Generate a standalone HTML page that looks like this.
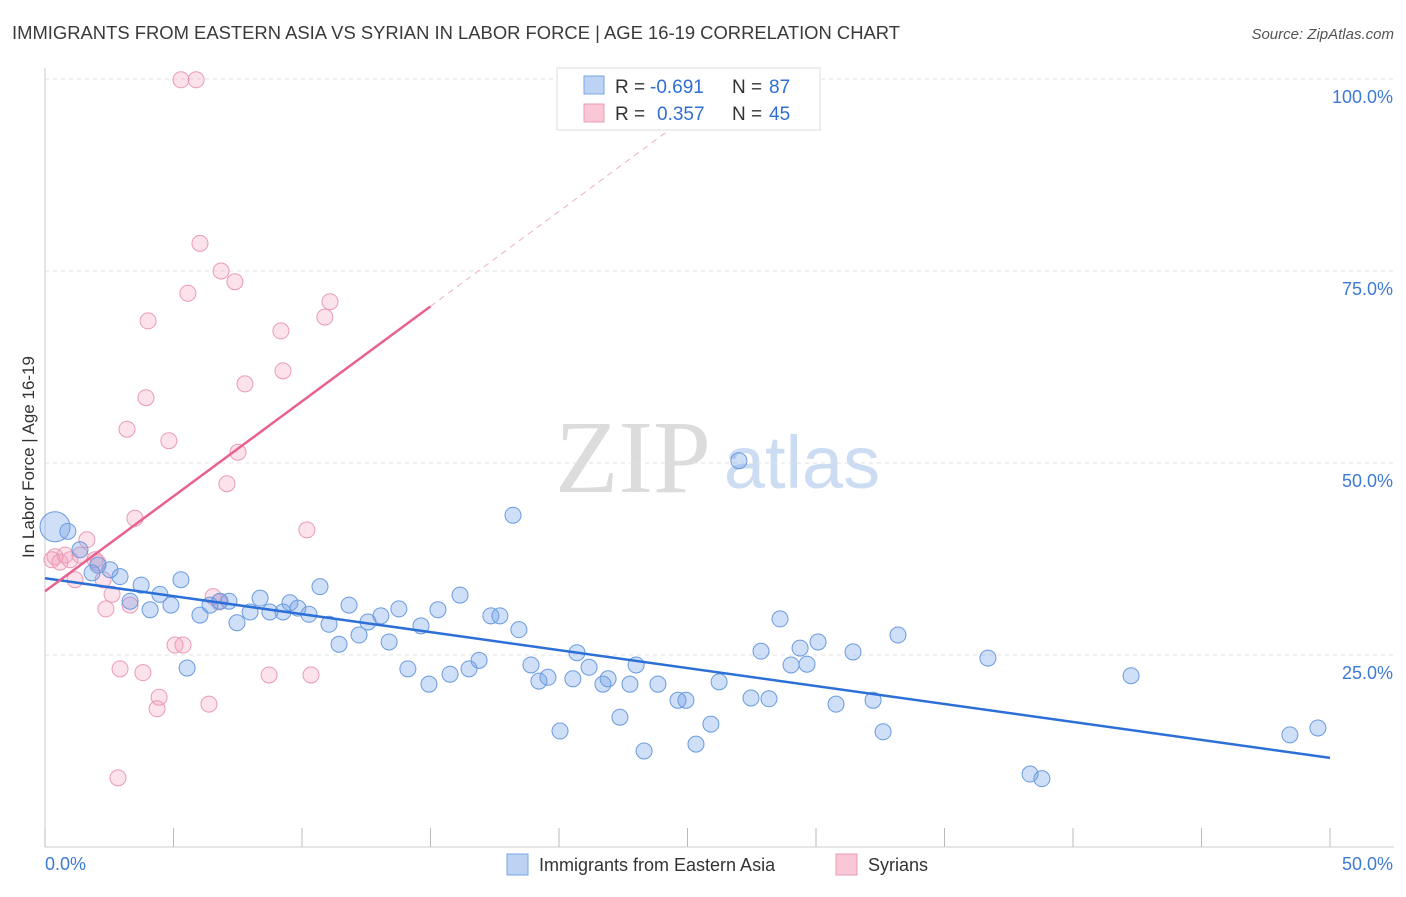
<!DOCTYPE html>
<html><head><meta charset="utf-8"><style>
body{margin:0;background:#fff;width:1406px;height:892px;overflow:hidden;font-family:"Liberation Sans",sans-serif}
</style></head><body>
<svg id="chart" width="1406" height="892" xmlns="http://www.w3.org/2000/svg" font-family="Liberation Sans, sans-serif">
<text x="12" y="39" font-size="18" fill="#3a3a3a" textLength="888" lengthAdjust="spacingAndGlyphs">IMMIGRANTS FROM EASTERN ASIA VS SYRIAN IN LABOR FORCE | AGE 16-19 CORRELATION CHART</text>
<text x="1394" y="39" font-size="15" fill="#555" font-style="italic" text-anchor="end">Source: ZipAtlas.com</text>
<g>
<text x="633" y="492" font-size="104" font-family="Liberation Serif, serif" fill="#dcdcdc" text-anchor="middle">ZIP</text>
<text x="802" y="488" font-size="74" fill="#ccdcf2" text-anchor="middle">atlas</text>
</g>
<g id="grid"></g><g id="axes"></g><g id="marks"></g>
<text transform="translate(34,457) rotate(-90)" font-size="17" fill="#333" text-anchor="middle">In Labor Force | Age 16-19</text>
<g>
<rect x="557" y="68" width="263" height="62" fill="#fff" stroke="#ddd"/>
<rect x="584" y="76" width="20" height="18" fill="#bcd3f3" stroke="#7aa5e6"/>
<rect x="584" y="104" width="20" height="18" fill="#f9c7d6" stroke="#ec9bb6"/>
<text x="615" y="93" font-size="19" fill="#333">R =</text>
<text x="650" y="93" font-size="19" fill="#2f6fd4">-0.691</text>
<text x="732" y="93" font-size="19" fill="#333">N =</text>
<text x="769" y="93" font-size="19" fill="#2f6fd4">87</text>
<text x="615" y="120" font-size="19" fill="#333">R =</text>
<text x="657" y="120" font-size="19" fill="#2f6fd4">0.357</text>
<text x="732" y="120" font-size="19" fill="#333">N =</text>
<text x="769" y="120" font-size="19" fill="#2f6fd4">45</text>
</g>
<g>
<rect x="507" y="854" width="21" height="21" fill="#bcd3f3" stroke="#7aa5e6"/>
<text x="539" y="871" font-size="18" fill="#333">Immigrants from Eastern Asia</text>
<rect x="836" y="854" width="21" height="21" fill="#f9c7d6" stroke="#ec9bb6"/>
<text x="868" y="871" font-size="18" fill="#333">Syrians</text>
</g>
</svg>
<script>
const xTicks=[0,5,10,15,20,25,30,35,40,45,50];
const yTicks=[25,50,75,100];
const yTickLabels=["25.0%","50.0%","75.0%","100.0%"];
const blueX=[0.39,0.89,1.36,2.06,1.83,2.53,2.92,3.31,3.74,4.09,4.47,4.90,5.29,5.53,6.03,6.42,6.81,7.16,7.47,7.98,8.37,8.75,9.26,9.53,9.84,10.27,10.70,11.05,11.44,11.83,12.22,12.57,13.07,13.39,13.77,14.12,14.63,14.94,15.29,15.76,16.15,16.50,16.89,17.35,17.70,18.21,18.44,18.91,19.22,19.57,20.04,20.54,20.70,21.17,21.71,21.91,22.37,22.76,23.00,23.31,23.85,24.63,24.94,25.33,25.91,26.23,27.00,27.47,27.86,28.17,28.60,29.03,29.38,29.65,30.08,30.78,31.44,32.22,32.61,33.19,36.69,38.33,38.79,42.26,48.44,49.53];
const blueY=[41.7,41.1,38.7,36.7,35.7,36.1,35.2,32.0,34.1,30.9,32.9,31.5,34.8,23.3,30.2,31.5,32.0,32.0,29.2,30.6,32.4,30.6,30.6,31.8,31.1,30.3,33.9,29.0,26.4,31.5,27.6,29.3,30.1,26.7,31.0,23.2,28.8,21.2,30.9,22.5,32.8,23.2,24.3,30.1,30.1,43.2,28.3,23.7,21.6,22.1,15.1,21.9,25.3,23.4,21.2,21.9,16.9,21.2,23.7,12.5,21.2,19.1,19.1,13.4,16.0,21.5,50.3,19.4,25.5,19.3,29.7,23.7,25.9,23.8,26.7,18.6,25.4,19.1,15.0,27.6,24.6,9.5,8.9,22.3,14.6,15.5];
const pinkX=[5.29,5.88,6.03,6.85,7.39,5.56,4.01,11.09,10.89,9.18,9.26,7.78,3.93,3.19,4.82,7.51,7.08,10.19,3.50,1.63,0.39,0.78,1.17,2.06,2.26,2.61,2.37,3.31,6.54,6.77,2.92,3.81,5.37,5.06,4.44,4.36,6.38,8.72,10.35,2.84,0.27,0.58,0.97,1.36,1.95];
const pinkY=[99.9,99.9,78.6,75.0,73.6,72.1,68.5,71.0,69.0,67.2,62.0,60.3,58.5,54.4,52.9,51.4,47.3,41.3,42.8,40.0,37.8,38.0,34.8,37.0,34.8,32.9,31.0,31.5,32.6,31.9,23.2,22.7,26.3,26.3,19.5,18.0,18.6,22.4,22.4,9.0,37.4,37.1,37.4,38.0,37.4];
const blueTrend=[35.0,11.6];   // y at x=0 and x=50
const pinkTrend=[33.3,70.4];   // y at x=0 and x=15
const NS="http://www.w3.org/2000/svg";
const X=v=>45+v*25.7, Y=v=>847-v*7.68;
function mk(tag,attrs,parent){const e=document.createElementNS(NS,tag);for(const k in attrs)e.setAttribute(k,attrs[k]);parent.appendChild(e);return e;}
const grid=document.getElementById('grid'),axes=document.getElementById('axes'),marks=document.getElementById('marks');
yTicks.forEach((t,i)=>{
 const l=mk('line',{x1:45,x2:1394,y1:Y(t),y2:Y(t),stroke:'#e2e2e2','stroke-dasharray':'4,4'},grid);
 
 
 const tx=mk('text',{x:1393,y:Y(t)+24,'font-size':18,fill:'#3d7ad6','text-anchor':'end'},axes);
 tx.textContent=yTickLabels[i];
 
 
});
let a=mk('line',{x1:45,x2:45,y1:68,y2:847,stroke:'#ccc'},axes);


a=mk('line',{x1:45,x2:1394,y1:847,y2:847,stroke:'#ccc'},axes);


xTicks.forEach(t=>{
 const l=mk('line',{x1:X(t),x2:X(t),y1:828,y2:847,stroke:'#bbb'},axes);
 
 
});
let t0=mk('text',{x:45,y:870,'font-size':18,fill:'#3d7ad6'},axes);t0.textContent=xTicks[0].toFixed(1)+'%';


let t1=mk('text',{x:1393,y:870,'font-size':18,fill:'#3d7ad6','text-anchor':'end'},axes);t1.textContent=xTicks[xTicks.length-1].toFixed(1)+'%';


pinkX.forEach((x,i)=>{
 const c=mk('circle',{cx:X(x),cy:Y(pinkY[i]),r:8,fill:'rgba(244,160,188,0.3)',stroke:'#eb9ab5','stroke-width':1},marks);
 
 
});
blueX.forEach((x,i)=>{
 const c=mk('circle',{cx:X(x),cy:Y(blueY[i]),r:i==0?15:8,fill:'rgba(110,158,232,0.33)',stroke:'#6a9be0','stroke-width':1},marks);
 
 
});
let bl=mk('line',{x1:X(0),y1:Y(blueTrend[0]),x2:X(50),y2:Y(blueTrend[1]),stroke:'#2c6fd6','stroke-width':2.5},marks);


const ps=(pinkTrend[1]-pinkTrend[0])/15;
let pl=mk('line',{x1:X(0),y1:Y(pinkTrend[0]),x2:X(15),y2:Y(pinkTrend[1]),stroke:'#e8628f','stroke-width':2.5},marks);


const xe=(100-pinkTrend[0])/ps;
let pd=mk('line',{x1:X(15),y1:Y(pinkTrend[1]),x2:X(xe),y2:Y(100),stroke:'#eeb0c4','stroke-width':1,'stroke-dasharray':'6,5'},marks);


</script>
</body></html>
